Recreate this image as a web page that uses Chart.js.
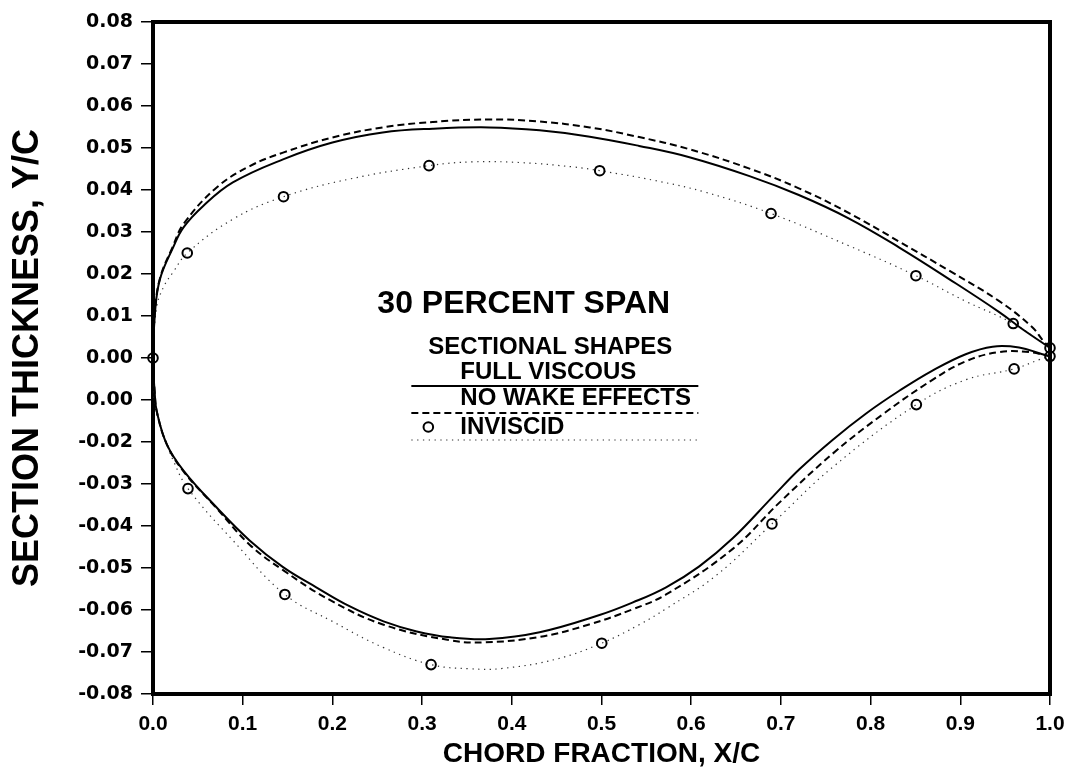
<!DOCTYPE html>
<html>
<head>
<meta charset="utf-8">
<script src="https://cdn.jsdelivr.net/npm/chart.js@4.4.1/dist/chart.umd.min.js"></script>
<style>
  html, body { margin: 0; padding: 0; background: #fff; }
  #wrap { width: 1077px; height: 771px; }
</style>
</head>
<body>
<div id="wrap"><canvas id="chart" width="1077" height="771"></canvas></div>
<script>
// tick labels as printed on the original (it really says 0.00 twice)
const xTickLabels = ['0.0','0.1','0.2','0.3','0.4','0.5','0.6','0.7','0.8','0.9','1.0'];
const yTickLabels = ['0.08','0.07','0.06','0.05','0.04','0.03','0.02','0.01','0.00',
                     '0.00','-0.02','-0.03','-0.04','-0.05','-0.06','-0.07','-0.08'];

// [x/c, y/c], leading edge -> trailing edge
const viscousUpper = [[0,0],[0.0022,0.0108],[0.0078,0.0188],[0.0222,0.0262],[0.034,0.0311],
  [0.056,0.0362],[0.089,0.0418],[0.145,0.0473],[0.2,0.0513],[0.256,0.0537],[0.312,0.0546],
  [0.375,0.0549],[0.431,0.0542],[0.487,0.0527],[0.542,0.0505],[0.598,0.0478],[0.665,0.0433],
  [0.72,0.0388],[0.776,0.0332],[0.832,0.0263],[0.8875,0.0188],[0.943,0.011],[0.969,0.0069],[1.0,0.0024]];
const viscousLower = [[0,0],[0.002,-0.0085],[0.0041,-0.0126],[0.0153,-0.0205],[0.034,-0.0268],
  [0.071,-0.0356],[0.108,-0.0435],[0.145,-0.0498],[0.182,-0.0546],[0.219,-0.0591],[0.257,-0.0627],
  [0.294,-0.0651],[0.331,-0.0665],[0.375,-0.0669],[0.431,-0.0653],[0.4978,-0.0612],[0.535,-0.0582],
  [0.572,-0.0546],[0.609,-0.0496],[0.646,-0.043],[0.691,-0.033],[0.7206,-0.0265],[0.7576,-0.0195],
  [0.795,-0.0132],[0.832,-0.0078],[0.869,-0.003],[0.906,0.0009],[0.936,0.0027],[0.9655,0.0025],
  [0.9915,0.0009],[1.0,0.0004]];

const noWakeUpper = [[0,0],[0.0022,0.011],[0.0078,0.019],[0.022,0.0265],[0.034,0.0319],[0.071,0.0406],
  [0.108,0.0457],[0.145,0.0489],[0.2,0.0525],[0.256,0.0549],[0.312,0.0562],[0.375,0.0568],
  [0.431,0.0563],[0.487,0.0549],[0.542,0.0526],[0.598,0.0497],[0.665,0.0451],[0.72,0.0404],
  [0.776,0.0345],[0.832,0.0277],[0.8875,0.0208],[0.943,0.0136],[0.98,0.0074],[0.992,0.0042],[1.0,0.0024]];
const noWakeLower = [[0,0],[0.002,-0.0085],[0.0041,-0.0126],[0.0153,-0.0205],[0.034,-0.027],
  [0.071,-0.0358],[0.108,-0.0445],[0.145,-0.0505],[0.197,-0.0576],[0.257,-0.0635],[0.331,-0.0672],
  [0.37,-0.0677],[0.431,-0.0664],[0.487,-0.0634],[0.535,-0.0598],[0.572,-0.0563],[0.646,-0.0455],
  [0.698,-0.0345],[0.7576,-0.0228],[0.813,-0.0135],[0.869,-0.0052],[0.906,-0.0008],[0.943,0.0014],
  [0.9766,0.0014],[1.0,0.0004]];

const inviscidUpper = [[0,0],[0.004,0.012],[0.012,0.017],[0.0223,0.0204],[0.0382,0.025],[0.0894,0.0331],
  [0.1455,0.0384],[0.219,0.0426],[0.3077,0.0458],[0.357,0.0467],[0.412,0.0465],[0.468,0.0455],
  [0.498,0.0446],[0.561,0.0422],[0.617,0.0394],[0.689,0.0344],[0.776,0.0267],[0.8505,0.0196],
  [0.906,0.0135],[0.959,0.0082],[1.0,0.0024]];
const inviscidLower = [[0,0],[0.002,-0.011],[0.0115,-0.0181],[0.0226,-0.0244],[0.039,-0.0311],
  [0.0894,-0.0435],[0.147,-0.0563],[0.2008,-0.0628],[0.2565,-0.0689],[0.31,-0.073],[0.353,-0.074],
  [0.39,-0.0739],[0.4495,-0.0717],[0.5003,-0.0679],[0.542,-0.0635],[0.572,-0.0597],[0.6277,-0.0518],
  [0.69,-0.0395],[0.7577,-0.026],[0.851,-0.0111],[0.906,-0.0052],[0.96,-0.0026],[0.988,-0.0004],[1.0,0.0004]];

// the open circles (inviscid section points)
const inviscidPoints = [[0,0],[0.0382,0.025],[0.1455,0.0384],[0.3077,0.0458],[0.498,0.0446],[0.689,0.0344],
  [0.8505,0.0196],[0.959,0.0082],[1.0,0.0024],[0.039,-0.0311],[0.147,-0.0563],[0.31,-0.073],
  [0.5003,-0.0679],[0.69,-0.0395],[0.851,-0.0111],[0.96,-0.0026],[1.0,0.0004]];

const FONT = "'Liberation Sans', Arial, Helvetica, sans-serif";

// trailing edge over the top, round the nose, back along the bottom
function loop(upper, lower) {
  const pts = upper.slice().reverse().concat(lower.slice(1));
  return pts.map(p => ({ x: p[0], y: p[1] }));
}

const lineStyles = [
  { label: 'FULL VISCOUS', dash: [], width: 2, color: '#000' },
  { label: 'NO WAKE EFFECTS', dash: [7, 4], width: 2, color: '#000' },
  { label: 'INVISCID', dash: [1.3, 4.5], width: 1.2, color: '#333' }
];

// box round the plot + the text block in the middle
const framePlugin = {
  id: 'frame',
  beforeDatasetsDraw(chart) {
    const { ctx, chartArea: a } = chart;
    ctx.save();
    ctx.strokeStyle = '#000';
    ctx.lineWidth = 4;
    ctx.strokeRect(a.left, a.top, a.right - a.left, a.bottom - a.top);
    ctx.restore();
  },
  afterDraw(chart) {
    const { ctx } = chart;
    const xs = chart.scales.x, ys = chart.scales.y;
    const ax = xs.getPixelForValue(0.288);
    const ay = ys.getPixelForValue(0);
    ctx.save();
    ctx.fillStyle = '#000';
    ctx.textBaseline = 'middle';
    ctx.textAlign = 'left';
    ctx.font = 'bold 32px ' + FONT;
    ctx.fillText('30 PERCENT SPAN', ax - 34, ay - 54);
    ctx.font = 'bold 24px ' + FONT;
    ctx.fillText('SECTIONAL SHAPES', ax + 17, ay - 11);

    const rows = [ay + 14, ay + 40, ay + 69];
    const lines = [ay + 28, ay + 55, ay + 82];
    lineStyles.forEach((s, i) => {
      ctx.fillText(s.label, ax + 49, rows[i]);
      ctx.beginPath();
      ctx.setLineDash(s.dash);
      ctx.lineWidth = s.width;
      ctx.strokeStyle = s.color;
      ctx.moveTo(ax, lines[i]);
      ctx.lineTo(ax + 287, lines[i]);
      ctx.stroke();
    });
    ctx.setLineDash([]);
    ctx.beginPath();
    ctx.lineWidth = 2;
    ctx.strokeStyle = '#000';
    ctx.arc(ax + 17, rows[2], 4.8, 0, Math.PI * 2);
    ctx.stroke();
    ctx.restore();
  }
};

new Chart(document.getElementById('chart'), {
  type: 'scatter',
  data: {
    datasets: [
      {
        label: 'inviscid points',
        data: inviscidPoints.map(p => ({ x: p[0], y: p[1] })),
        showLine: false,
        pointRadius: 4.8,
        pointBorderWidth: 2,
        pointBorderColor: '#000',
        pointBackgroundColor: 'rgba(0,0,0,0)',
        clip: false
      },
      ...[[viscousUpper, viscousLower], [noWakeUpper, noWakeLower], [inviscidUpper, inviscidLower]].map((pair, i) => ({
        label: lineStyles[i].label,
        data: loop(pair[0], pair[1]),
        showLine: true,
        tension: 0.4,
        borderColor: lineStyles[i].color,
        borderWidth: lineStyles[i].width,
        borderDash: lineStyles[i].dash,
        pointRadius: 0,
        fill: false
      }))
    ]
  },
  options: {
    responsive: false,
    animation: false,
    devicePixelRatio: 1,
    layout: { padding: { top: 22, right: 27, left: 0, bottom: 0 } },
    plugins: {
      legend: { display: false },
      tooltip: { enabled: false }
    },
    scales: {
      x: {
        type: 'linear',
        min: 0, max: 1,
        afterFit: s => { s.height = 77; },
        ticks: {
          stepSize: 0.1,
          autoSkip: false,
          maxRotation: 0,
          padding: 7,
          color: '#000',
          font: { family: FONT, size: 21, weight: 'bold' },
          callback: (v, i) => xTickLabels[i]
        },
        grid: { drawOnChartArea: false, drawTicks: true, tickLength: 11, color: '#000', lineWidth: 1.5 },
        border: { display: false },
        title: {
          display: true,
          text: 'CHORD FRACTION, X/C',
          color: '#000',
          font: { family: FONT, size: 28, weight: 'bold' },
          padding: { top: 0, bottom: 0 }
        }
      },
      y: {
        type: 'linear',
        min: -0.08, max: 0.08,
        afterFit: s => { s.width = 153; },
        ticks: {
          stepSize: 0.01,
          autoSkip: false,
          padding: 8,
          color: '#000',
          font: { family: "'DejaVu Sans', " + FONT, size: 19, weight: 'bold' },
          callback: (v, i) => yTickLabels[16 - i]
        },
        grid: { drawOnChartArea: false, drawTicks: true, tickLength: 12, color: '#000', lineWidth: 1.5 },
        border: { display: false },
        title: {
          display: true,
          text: 'SECTION THICKNESS, Y/C',
          color: '#000',
          font: { family: FONT, size: 36, weight: 'bold' },
          padding: { top: 6, bottom: 0 }
        }
      }
    }
  },
  plugins: [framePlugin]
});
</script>
</body>
</html>
